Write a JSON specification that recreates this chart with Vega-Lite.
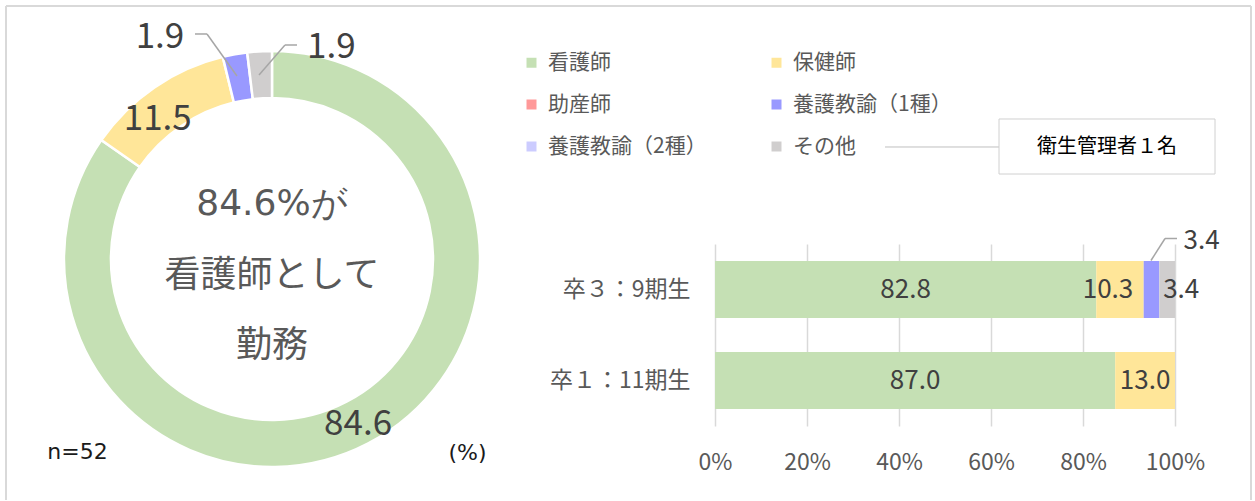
{
  "$schema": "https://vega.github.io/schema/vega-lite/v6.json",
  "background": "white",
  "padding": 0,
  "config": {
    "font": "Noto Sans CJK JP",
    "view": {"stroke": null},
    "legend": {
      "orient": "none", "legendX": 521, "legendY": 52, "columns": 2, "direction": "horizontal",
      "symbolType": "square", "symbolSize": 100, "symbolStrokeWidth": 0,
      "labelFontSize": 21, "labelColor": "#595959", "labelOffset": 6,
      "rowPadding": 20, "columnPadding": 59, "labelLimit": 300, "padding": 0
    }
  },
  "datasets": {
    "donut": [
      {"cat": "看護師", "value": 84.6, "k": 1},
      {"cat": "保健師", "value": 11.5, "k": 2},
      {"cat": "養護教諭（1種）", "value": 1.9, "k": 4},
      {"cat": "その他", "value": 1.9, "k": 6}
    ],
    "bars": [
      {"group": "卒３：9期生", "cat": "看護師", "value": 82.8, "k": 1},
      {"group": "卒３：9期生", "cat": "保健師", "value": 10.3, "k": 2},
      {"group": "卒３：9期生", "cat": "養護教諭（1種）", "value": 3.4, "k": 4},
      {"group": "卒３：9期生", "cat": "その他", "value": 3.4, "k": 6},
      {"group": "卒１：11期生", "cat": "看護師", "value": 87.0, "k": 1},
      {"group": "卒１：11期生", "cat": "保健師", "value": 13.0, "k": 2}
    ]
  },
  "spacing": 195,
  "bounds": "flush",
  "resolve": {"scale": {"x": "independent", "y": "independent", "color": "shared"}},
  "hconcat": [
    {
      "width": 520,
      "height": 501,
      "data": {"name": "donut"},
      "layer": [
        {
          "mark": {"type": "arc", "outerRadius": 208, "innerRadius": 161, "stroke": "white", "strokeWidth": 2.5},
          "encoding": {
            "x": {"datum": 0, "type": "quantitative", "scale": {"domain": [-1.3014, 1.1866], "nice": false, "zero": false}, "axis": null},
            "y": {"datum": 0, "type": "quantitative", "scale": {"domain": [-1.1579, 1.2392], "nice": false, "zero": false}, "axis": null},
            "theta": {"field": "value", "type": "quantitative", "stack": true},
            "order": {"field": "k", "type": "quantitative"},
            "color": {
              "field": "cat", "type": "nominal", "title": null,
              "scale": {
                "domain": ["看護師", "保健師", "助産師", "養護教諭（1種）", "養護教諭（2種）", "その他"],
                "range": ["#C5E0B4", "#FFE699", "#FF9999", "#9999FF", "#CCCCFF", "#D0CECE"]
              }
            }
          }
        },
        {
          "mark": {"type": "text", "radius": 186, "fontSize": 35, "fill": "#404040", "align": "center", "baseline": "middle"},
          "encoding": {
            "x": {"datum": 0, "type": "quantitative"},
            "y": {"datum": 0, "type": "quantitative"},
            "theta": {"field": "value", "type": "quantitative", "stack": true},
            "order": {"field": "k", "type": "quantitative"},
            "text": {"condition": {"test": "datum.k === 1", "field": "value", "format": ".1f"}, "value": ""}
          }
        },
        {
          "mark": {"type": "text", "radius": 181, "dx": -12, "dy": 9, "fontSize": 35, "fill": "#404040", "align": "center", "baseline": "middle"},
          "encoding": {
            "x": {"datum": 0, "type": "quantitative"},
            "y": {"datum": 0, "type": "quantitative"},
            "theta": {"field": "value", "type": "quantitative", "stack": true},
            "order": {"field": "k", "type": "quantitative"},
            "text": {"condition": {"test": "datum.k === 2", "field": "value", "format": ".1f"}, "value": ""}
          }
        },
        {
          "mark": {"type": "text", "radius": 230, "dx": -71, "dy": 4, "fontSize": 35, "fill": "#404040", "align": "center", "baseline": "middle"},
          "encoding": {
            "x": {"datum": 0, "type": "quantitative"},
            "y": {"datum": 0, "type": "quantitative"},
            "theta": {"field": "value", "type": "quantitative", "stack": true},
            "order": {"field": "k", "type": "quantitative"},
            "text": {"condition": {"test": "datum.k === 4", "field": "value", "format": ".1f"}, "value": ""}
          }
        },
        {
          "mark": {"type": "text", "radius": 212, "dx": 72, "dy": 0, "fontSize": 35, "fill": "#404040", "align": "center", "baseline": "middle"},
          "encoding": {
            "x": {"datum": 0, "type": "quantitative"},
            "y": {"datum": 0, "type": "quantitative"},
            "theta": {"field": "value", "type": "quantitative", "stack": true},
            "order": {"field": "k", "type": "quantitative"},
            "text": {"condition": {"test": "datum.k === 6", "field": "value", "format": ".1f"}, "value": ""}
          }
        },
        {
          "data": {"values": [{"label": "84.6%が"}]},
          "mark": {"type": "text", "font": "DejaVu Sans", "fontSize": 36, "fill": "#595959", "align": "center", "baseline": "middle"},
          "encoding": {
            "x": {"datum": 0, "type": "quantitative"},
            "y": {"datum": 0.2608, "type": "quantitative"},
            "text": {"field": "label"}
          }
        },
        {
          "data": {"values": [{"label": ["看護師として", "勤務"]}]},
          "mark": {"type": "text", "fontSize": 36, "lineHeight": 70, "fill": "#595959", "align": "center", "baseline": "middle"},
          "encoding": {
            "x": {"datum": 0, "type": "quantitative"},
            "y": {"datum": -0.0813, "type": "quantitative"},
            "text": {"field": "label"}
          }
        },
        {
          "data": {"values": [{"label": "n=52"}]},
          "mark": {"type": "text", "font": "DejaVu Sans", "fontSize": 22, "fill": "#1a1a1a", "align": "center", "baseline": "middle"},
          "encoding": {
            "x": {"datum": -0.9306, "type": "quantitative"},
            "y": {"datum": -0.9234, "type": "quantitative"},
            "text": {"field": "label"}
          }
        },
        {
          "data": {"values": [{"label": "(%)"}]},
          "mark": {"type": "text", "font": "DejaVu Sans", "fontSize": 22, "fill": "#1a1a1a", "align": "center", "baseline": "middle"},
          "encoding": {
            "x": {"datum": 0.9354, "type": "quantitative"},
            "y": {"datum": -0.9282, "type": "quantitative"},
            "text": {"field": "label"}
          }
        },
        {
          "data": {"values": [{}]},
          "mark": {"type": "rule", "stroke": "#a6a6a6", "strokeWidth": 1.5},
          "encoding": {
            "x": {"datum": -0.3684, "type": "quantitative"}, "x2": {"datum": -0.3110},
            "y": {"datum": 1.0766, "type": "quantitative"}, "y2": {"datum": 1.0766}
          }
        },
        {
          "data": {"values": [{}]},
          "mark": {"type": "rule", "stroke": "#a6a6a6", "strokeWidth": 1.5},
          "encoding": {
            "x": {"datum": -0.3110, "type": "quantitative"}, "x2": {"datum": -0.1675},
            "y": {"datum": 1.0766, "type": "quantitative"}, "y2": {"datum": 0.8756}
          }
        },
        {
          "data": {"values": [{}]},
          "mark": {"type": "rule", "stroke": "#a6a6a6", "strokeWidth": 1.5},
          "encoding": {
            "x": {"datum": 0.0622, "type": "quantitative"}, "x2": {"datum": 0.1196},
            "y": {"datum": 1.0239, "type": "quantitative"}, "y2": {"datum": 1.0239}
          }
        },
        {
          "data": {"values": [{}]},
          "mark": {"type": "rule", "stroke": "#a6a6a6", "strokeWidth": 1.5},
          "encoding": {
            "x": {"datum": 0.0622, "type": "quantitative"}, "x2": {"datum": -0.0622},
            "y": {"datum": 1.0239, "type": "quantitative"}, "y2": {"datum": 0.8804}
          }
        },
        {
          "data": {"values": [{}]},
          "mark": {"type": "rule", "stroke": "#d9d9d9", "strokeWidth": 2},
          "encoding": {
            "x": {"datum": -1.2727, "type": "quantitative"}, "x2": {"datum": 4.6842},
            "y": {"datum": 1.2105, "type": "quantitative"}, "y2": {"datum": 1.2105}
          }
        },
        {
          "data": {"values": [{}]},
          "mark": {"type": "rule", "stroke": "#d9d9d9", "strokeWidth": 2},
          "encoding": {
            "x": {"datum": -1.2727, "type": "quantitative"}, "x2": {"datum": -1.2727},
            "y": {"datum": 1.2105, "type": "quantitative"}, "y2": {"datum": -1.1531}
          }
        },
        {
          "data": {"values": [{}]},
          "mark": {"type": "rule", "stroke": "#d9d9d9", "strokeWidth": 2},
          "encoding": {
            "x": {"datum": 4.6842, "type": "quantitative"}, "x2": {"datum": 4.6842},
            "y": {"datum": 1.2105, "type": "quantitative"}, "y2": {"datum": -1.1531}
          }
        }
      ]
    },
    {
      "spacing": 20,
      "bounds": "flush",
      "resolve": {"scale": {"x": "independent", "y": "independent", "color": "shared"}},
      "vconcat": [
        {
          "width": 460,
          "height": 224,
          "data": {"values": [{"label": "衛生管理者１名"}]},
          "layer": [
            {
              "mark": {"type": "rule", "stroke": "#bfbfbf", "strokeWidth": 1},
              "encoding": {
                "x": {"datum": 0.3696, "type": "quantitative", "scale": {"domain": [0, 1], "nice": false, "zero": false}, "axis": null},
                "x2": {"datum": 0.6174},
                "y": {"datum": 0.3438, "type": "quantitative", "scale": {"domain": [0, 1], "nice": false, "zero": false}, "axis": null},
                "y2": {"datum": 0.3438}
              }
            },
            {
              "mark": {"type": "rect", "fill": "white", "stroke": "#d0d0d0", "strokeWidth": 1},
              "encoding": {
                "x": {"datum": 0.6174, "type": "quantitative"}, "x2": {"datum": 1.0870},
                "y": {"datum": 0.4688, "type": "quantitative"}, "y2": {"datum": 0.2232}
              }
            },
            {
              "mark": {"type": "text", "fontSize": 20, "fill": "#000000", "align": "center", "baseline": "middle"},
              "encoding": {
                "x": {"datum": 0.8522, "type": "quantitative"},
                "y": {"datum": 0.3438, "type": "quantitative"},
                "text": {"field": "label"}
              }
            }
          ]
        },
        {
          "width": 460,
          "height": 182,
          "layer": [
            {
              "data": {"name": "bars"},
              "transform": [
                {"stack": "value", "groupby": ["group"], "sort": [{"field": "k", "order": "ascending"}], "as": ["v0", "v1"], "offset": "normalize"}
              ],
              "mark": {"type": "bar"},
              "encoding": {
                "x": {
                  "field": "v0", "type": "quantitative",
                  "scale": {"domain": [0, 1], "nice": false, "zero": false},
                  "axis": {
                    "values": [0, 0.2, 0.4, 0.6, 0.8, 1], "format": ".0%", "title": null,
                    "grid": true, "gridColor": "#d9d9d9", "gridWidth": 1.5,
                    "domain": false, "ticks": false, "labelPadding": 25,
                    "labelFontSize": 23, "labelColor": "#595959", "labelFlush": false, "labelOverlap": false
                  }
                },
                "x2": {"field": "v1"},
                "y": {
                  "field": "group", "type": "nominal",
                  "sort": ["卒３：9期生", "卒１：11期生"],
                  "scale": {"paddingInner": 0.374, "paddingOuter": 0.187},
                  "axis": {
                    "title": null, "domain": false, "ticks": false, "labelPadding": 25,
                    "labelFontSize": 23, "labelColor": "#595959", "labelLimit": 300
                  }
                },
                "color": {
                  "field": "cat", "type": "nominal", "title": null,
                  "scale": {
                    "domain": ["看護師", "保健師", "助産師", "養護教諭（1種）", "養護教諭（2種）", "その他"],
                    "range": ["#C5E0B4", "#FFE699", "#FF9999", "#9999FF", "#CCCCFF", "#D0CECE"]
                  }
                }
              }
            },
            {
              "data": {"name": "bars"},
              "transform": [
                {"stack": "value", "groupby": ["group"], "sort": [{"field": "k", "order": "ascending"}], "as": ["v0", "v1"], "offset": "normalize"},
                {"calculate": "(datum.v0 + datum.v1) / 2", "as": "mid"},
                {"filter": "!(datum.group === '卒３：9期生' && datum.k > 1)"}
              ],
              "mark": {"type": "text", "fontSize": 26, "fill": "#404040", "align": "center", "baseline": "middle"},
              "encoding": {
                "x": {"field": "mid", "type": "quantitative"},
                "y": {"field": "group", "type": "nominal", "sort": ["卒３：9期生", "卒１：11期生"]},
                "text": {"field": "value", "format": ".1f"}
              }
            },
            {
              "data": {"name": "bars"},
              "transform": [
                {"stack": "value", "groupby": ["group"], "sort": [{"field": "k", "order": "ascending"}], "as": ["v0", "v1"], "offset": "normalize"},
                {"calculate": "(datum.v0 + datum.v1) / 2", "as": "mid"},
                {"filter": "datum.group === '卒３：9期生' && datum.k === 2"}
              ],
              "mark": {"type": "text", "fontSize": 26, "fill": "#404040", "align": "center", "baseline": "middle", "dx": -12},
              "encoding": {
                "x": {"field": "mid", "type": "quantitative"},
                "y": {"field": "group", "type": "nominal", "sort": ["卒３：9期生", "卒１：11期生"]},
                "text": {"field": "value", "format": ".1f"}
              }
            },
            {
              "data": {"name": "bars"},
              "transform": [
                {"stack": "value", "groupby": ["group"], "sort": [{"field": "k", "order": "ascending"}], "as": ["v0", "v1"], "offset": "normalize"},
                {"calculate": "(datum.v0 + datum.v1) / 2", "as": "mid"},
                {"filter": "datum.group === '卒３：9期生' && datum.k === 4"}
              ],
              "mark": {"type": "text", "fontSize": 26, "fill": "#404040", "align": "center", "baseline": "middle", "dx": 50, "dy": -49},
              "encoding": {
                "x": {"field": "mid", "type": "quantitative"},
                "y": {"field": "group", "type": "nominal", "sort": ["卒３：9期生", "卒１：11期生"]},
                "text": {"field": "value", "format": ".1f"}
              }
            },
            {
              "data": {"name": "bars"},
              "transform": [
                {"stack": "value", "groupby": ["group"], "sort": [{"field": "k", "order": "ascending"}], "as": ["v0", "v1"], "offset": "normalize"},
                {"calculate": "(datum.v0 + datum.v1) / 2", "as": "mid"},
                {"filter": "datum.group === '卒３：9期生' && datum.k === 6"}
              ],
              "mark": {"type": "text", "fontSize": 26, "fill": "#404040", "align": "center", "baseline": "middle", "dx": 14},
              "encoding": {
                "x": {"field": "mid", "type": "quantitative"},
                "y": {"field": "group", "type": "nominal", "sort": ["卒３：9期生", "卒１：11期生"]},
                "text": {"field": "value", "format": ".1f"}
              }
            },
            {
              "data": {"values": [{"group": "卒３：9期生"}]},
              "mark": {"type": "rule", "stroke": "#a6a6a6", "strokeWidth": 1.5, "yOffset": -29, "y2Offset": -51},
              "encoding": {
                "x": {"datum": 0.9478, "type": "quantitative"}, "x2": {"datum": 0.9783},
                "y": {"field": "group", "type": "nominal", "sort": ["卒３：9期生", "卒１：11期生"]}, "y2": {"field": "group"}
              }
            },
            {
              "data": {"values": [{"group": "卒３：9期生"}]},
              "mark": {"type": "rule", "stroke": "#a6a6a6", "strokeWidth": 1.5, "yOffset": -51, "y2Offset": -51},
              "encoding": {
                "x": {"datum": 0.9783, "type": "quantitative"}, "x2": {"datum": 1.0043},
                "y": {"field": "group", "type": "nominal", "sort": ["卒３：9期生", "卒１：11期生"]}, "y2": {"field": "group"}
              }
            }
          ]
        }
      ]
    }
  ]
}
